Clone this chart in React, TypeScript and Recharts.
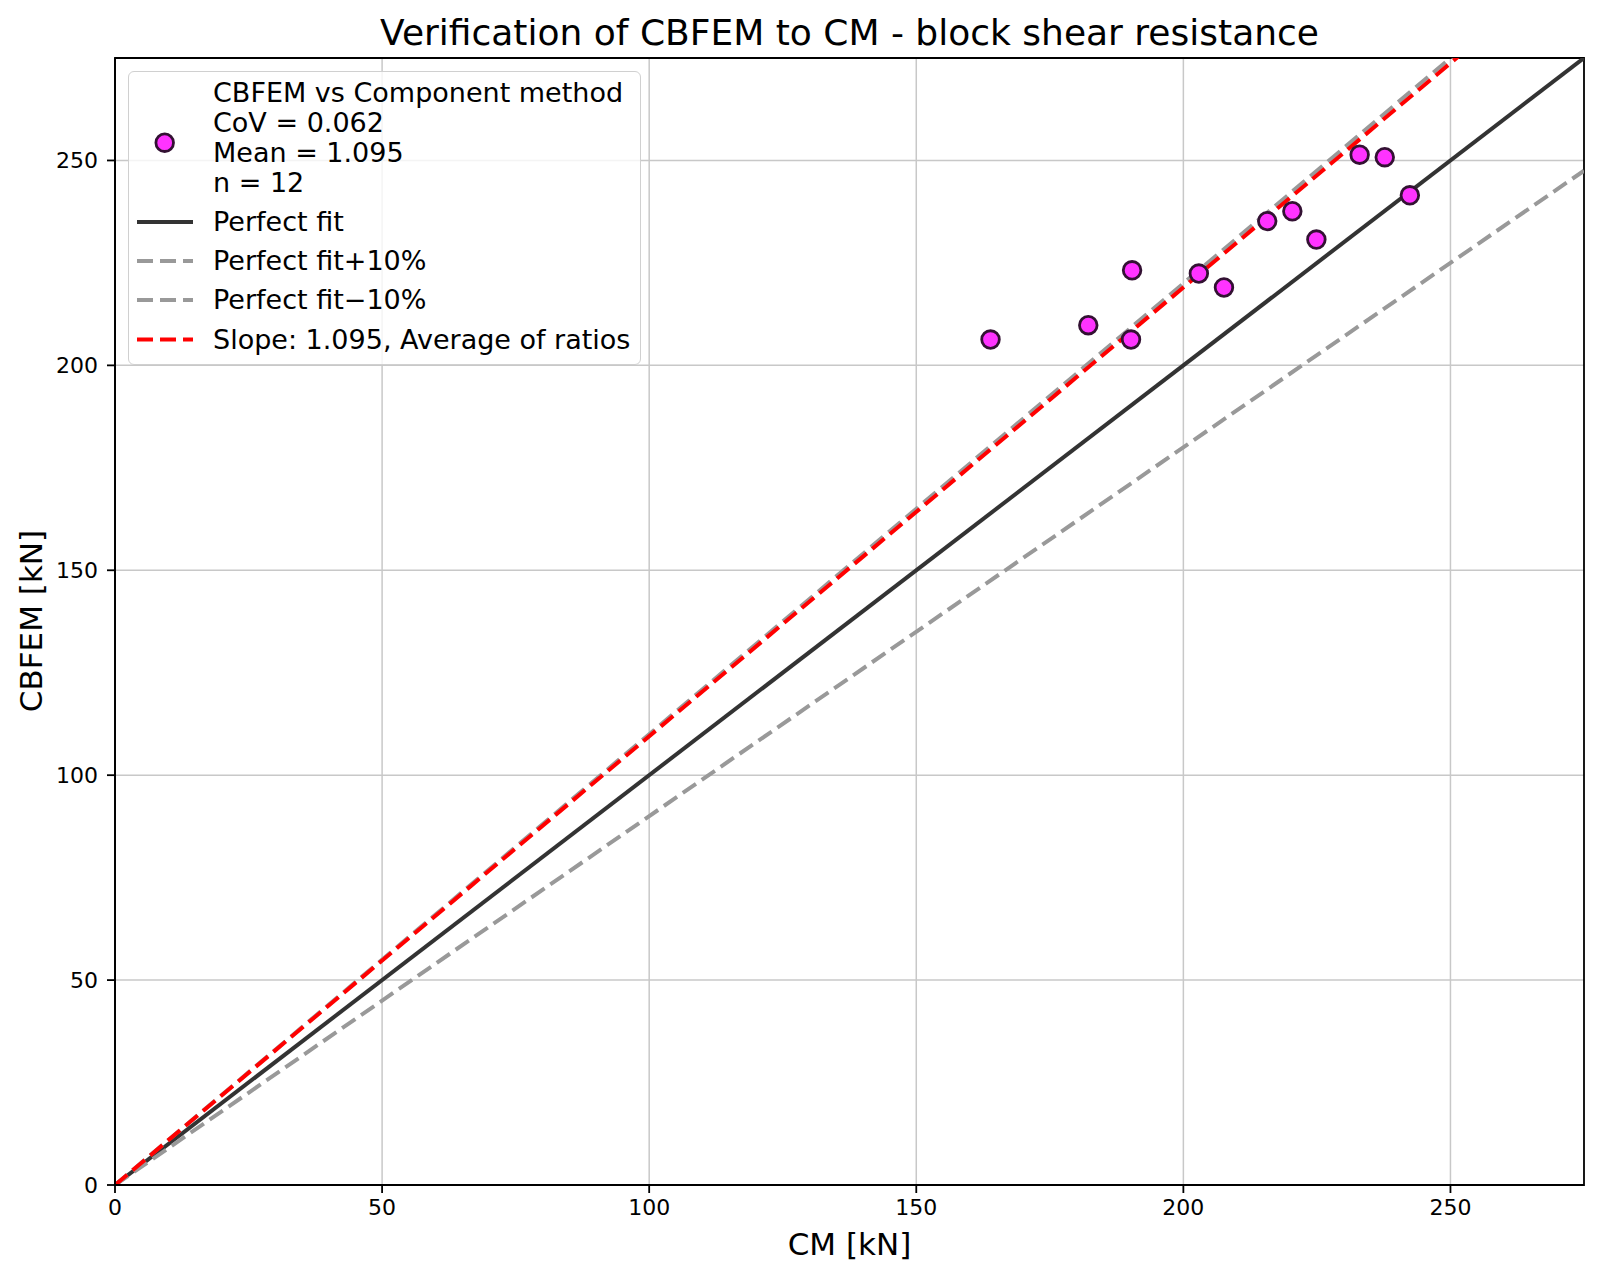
import React from 'react';
import {
  ComposedChart,
  Scatter,
  Line,
  XAxis,
  YAxis,
  CartesianGrid,
  ReferenceArea,
} from 'recharts';

// CM [kN] vs CBFEM [kN]
const cmValues = [163.9, 182.2, 190.4, 190.2, 202.9, 207.6, 215.7, 220.4, 224.9, 233.0, 237.7, 242.4];
const cbfemValues = [206.3, 209.8, 223.2, 206.3, 222.4, 219.0, 235.2, 237.6, 230.7, 251.4, 250.8, 241.5];

const axisTicks = [0, 50, 100, 150, 200, 250];
const axisMax = 275;
const lineXs = [0, 275];

const slopePerfect = 1.0;
const slopePlus = 1.1;
const slopeMinus = 0.9;
const slopeMean = 1.095;

const FONT = '"DejaVu Sans", sans-serif';

const scatterData = cmValues.map((x, i) => ({ x, y: cbfemValues[i] }));
const lineData = (slope: number) => lineXs.map((x) => ({ x, y: x * slope }));

const Marker = (props: any) => {
  const { cx, cy } = props;
  if (cx == null || cy == null) return null;
  return <circle cx={cx} cy={cy} r={8.8} fill="#ff33ff" stroke="#331133" strokeWidth={2.8} />;
};

const legendRows = [
  { color: '#333333', dash: undefined, label: 'Perfect fit', y: 222 },
  { color: '#999999', dash: '16 7', label: 'Perfect fit+10%', y: 261 },
  { color: '#999999', dash: '16 7', label: 'Perfect fit\u221210%', y: 300 },
  { color: '#ff0000', dash: '16 7', label: 'Slope: 1.095, Average of ratios', y: 339.5 },
];

const scatterLabel = ['CBFEM vs Component method', 'CoV = 0.062', 'Mean = 1.095', 'n = 12'];
const scatterLabelY = [93, 123, 153, 183];

const App: React.FC = () => {
  const tickStyle = { fill: '#000', fontSize: 22, fontFamily: FONT };

  return (
    <div style={{ position: 'absolute', left: 0, top: 0, width: 1600, height: 1279, background: '#fff', fontFamily: FONT }}>
      <div style={{ position: 'absolute', left: 849.5, top: 13, transform: 'translateX(-50%)', fontSize: 36, lineHeight: '40px', whiteSpace: 'nowrap' }}>
        Verification of CBFEM to CM - block shear resistance
      </div>

      <ComposedChart
        width={1600}
        height={1279}
        margin={{ top: 58, right: 16, bottom: 0, left: 0 }}
        style={{ position: 'absolute', left: 0, top: 0 }}
      >
        <CartesianGrid stroke="#c8c8c8" strokeWidth={1.5} horizontalValues={axisTicks} verticalValues={axisTicks} />
        <XAxis
          type="number"
          dataKey="x"
          domain={[0, axisMax]}
          ticks={axisTicks}
          allowDataOverflow
          height={94}
          tick={tickStyle}
          tickSize={8}
          tickMargin={6}
          axisLine={{ stroke: '#000', strokeWidth: 1.8 }}
          tickLine={{ stroke: '#000', strokeWidth: 1.8 }}
        />
        <YAxis
          type="number"
          dataKey="y"
          domain={[0, axisMax]}
          ticks={axisTicks}
          allowDataOverflow
          width={115}
          tick={tickStyle}
          tickSize={8}
          tickMargin={9}
          axisLine={{ stroke: '#000', strokeWidth: 1.8 }}
          tickLine={{ stroke: '#000', strokeWidth: 1.8 }}
        />
        <Scatter data={scatterData} shape={<Marker />} isAnimationActive={false} />
        <Line data={lineData(slopePerfect)} dataKey="y" stroke="#333333" strokeWidth={4} dot={false} isAnimationActive={false} />
        <Line data={lineData(slopePlus)} dataKey="y" stroke="#999999" strokeWidth={4} strokeDasharray="16 7" dot={false} isAnimationActive={false} />
        <Line data={lineData(slopeMinus)} dataKey="y" stroke="#999999" strokeWidth={4} strokeDasharray="16 7" dot={false} isAnimationActive={false} />
        <Line data={lineData(slopeMean)} dataKey="y" stroke="#ff0000" strokeWidth={4} strokeDasharray="16 7" dot={false} isAnimationActive={false} />
        <ReferenceArea x1={0} x2={axisMax} y1={0} y2={axisMax} fill="none" fillOpacity={0} stroke="#000" strokeWidth={1.8} ifOverflow="visible" />
      </ComposedChart>

      {/* axis titles */}
      <div style={{ position: 'absolute', left: 849.5, top: 1244, transform: 'translate(-50%, -50%)', fontSize: 31, whiteSpace: 'nowrap' }}>
        CM [kN]
      </div>
      <div
        style={{
          position: 'absolute',
          left: 31,
          top: 621,
          transform: 'translate(-50%, -50%) rotate(-90deg)',
          fontSize: 31,
          whiteSpace: 'nowrap',
        }}
      >
        CBFEM [kN]
      </div>

      {/* Legend */}
      <div
        style={{
          position: 'absolute',
          left: 128,
          top: 71,
          width: 513,
          height: 294,
          background: 'rgba(255,255,255,0.8)',
          border: '1.5px solid #d0d0d0',
          borderRadius: 6,
          boxSizing: 'border-box',
        }}
      />
      <svg width={1600} height={400} style={{ position: 'absolute', left: 0, top: 0, pointerEvents: 'none' }}>
        <circle cx={164.7} cy={142.7} r={8.8} fill="#ff33ff" stroke="#331133" strokeWidth={2.8} />
        {legendRows.map((row) => (
          <line
            key={row.label}
            x1={137}
            x2={193}
            y1={row.y}
            y2={row.y}
            stroke={row.color}
            strokeWidth={4}
            strokeDasharray={row.dash}
          />
        ))}
      </svg>
      {scatterLabel.map((t, i) => (
        <div
          key={t}
          style={{ position: 'absolute', left: 213, top: scatterLabelY[i] - 15, lineHeight: '30px', fontSize: 27, whiteSpace: 'nowrap' }}
        >
          {t}
        </div>
      ))}
      {legendRows.map((row) => (
        <div
          key={row.label}
          style={{ position: 'absolute', left: 213, top: row.y - 15, lineHeight: '30px', fontSize: 27, whiteSpace: 'nowrap' }}
        >
          {row.label}
        </div>
      ))}
    </div>
  );
};

export default App;
